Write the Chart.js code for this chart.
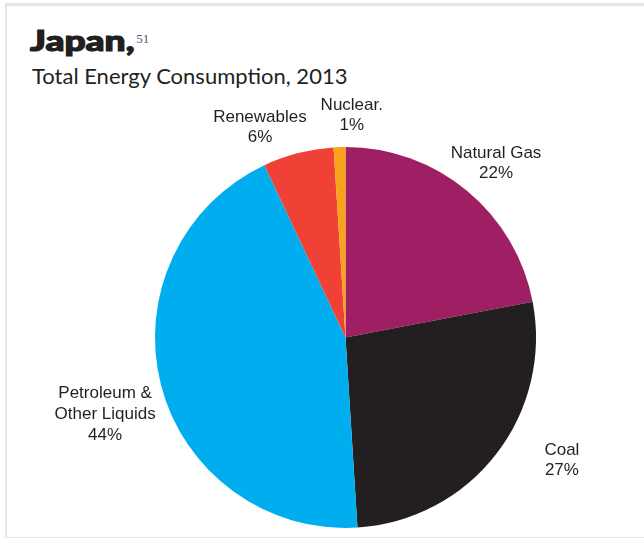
<!DOCTYPE html>
<html>
<head>
<meta charset="utf-8">
<script src="https://cdn.jsdelivr.net/npm/chart.js@4.4.1/dist/chart.umd.min.js"></script>
<style>
    html, body { margin: 0; padding: 0; background: #fff; }
    body { width: 644px; height: 538px; position: relative; overflow: hidden; }
    #frame {
        position: absolute; left: 5px; top: 3px; width: 700px; height: 531px;
        border-left: 2px solid #e6e6e6; border-top: 3px solid #e6e6e6; border-bottom: 2px solid #e6e6e6;
    }
    #title {
        position: absolute; left: 30px; top: 22px; margin: 0;
        font-family: Lato, sans-serif; font-weight: 900; font-size: 29px; line-height: 36px; color: #231f20;
        -webkit-text-stroke: 1.2px #231f20;
        transform: scaleX(1.28); transform-origin: left center;
    }
    #title sup {
        font-family: "Liberation Serif", serif; font-weight: 400; font-size: 13px; color: #4a5b7a;
        -webkit-text-stroke: 0; display: inline-block; transform: scaleX(0.78); transform-origin: left center;
        vertical-align: 0; position: relative; top: -8px; margin-left: 1px;
    }
    #subtitle {
        position: absolute; left: 32px; top: 62px; margin: 0;
        font-family: Lato, sans-serif; font-weight: 400; font-size: 22px; line-height: 28px; color: #231f20;
    }
    canvas { position: absolute; left: 0; top: 0; }
</style>
</head>
<body>
<div id="frame"></div>
<h1 id="title">Japan,<sup>51</sup></h1>
<h2 id="subtitle">Total Energy Consumption, 2013</h2>
<canvas id="chart" width="644" height="538"></canvas>
<script>
// energy mix, share of total (%)
let sources = ['Natural Gas', 'Coal', 'Petroleum &\nOther Liquids', 'Renewables', 'Nuclear.'];
let shares = [22, 27, 44, 6, 1];
let colors = ['#9e1f63', '#231f20', '#00aeef', '#ef4136', '#f9a31b'];

// where each label sits, as a fraction of the pie radius from its centre
let labelSpots = [
    [0.79, -0.916],
    [1.136, 0.647],
    [-1.262, 0.404],
    [-0.449, -1.104],
    [0.033, -1.168]
];

let pieLabels = {
    id: 'pieLabels',
    afterDraw: function (chart) {
        let ctx = chart.ctx;
        let arcs = chart.getDatasetMeta(0).data;
        ctx.save();
        ctx.font = '17px "Liberation Sans", Arial, sans-serif';
        ctx.fillStyle = '#231f20';
        ctx.textAlign = 'center';
        ctx.textBaseline = 'middle';
        for (let i = 0; i < arcs.length; i++) {
            let a = arcs[i];
            let x = a.x + labelSpots[i][0] * a.outerRadius;
            let y = a.y + labelSpots[i][1] * a.outerRadius;
            let lines = sources[i].split('\n');
            lines.push(shares[i] + '%');
            let lineH = lines.length > 2 ? 21 : 20;
            for (let j = 0; j < lines.length; j++) {
                ctx.fillText(lines[j], x, y + (j - (lines.length - 1) / 2) * lineH);
            }
        }
        ctx.restore();
    }
};

const ctx = document.getElementById('chart');

new Chart(ctx, {
    type: 'pie',
    data: {
        labels: sources,
        datasets: [{
            data: shares,
            backgroundColor: colors,
            borderWidth: 0
        }]
    },
    options: {
        responsive: false,
        animation: false,
        layout: { padding: { left: 155, right: 108, top: 147, bottom: 10 } },
        plugins: {
            legend: { display: false },
            tooltip: { enabled: false }
        }
    },
    plugins: [pieLabels]
});
</script>
</body>
</html>
